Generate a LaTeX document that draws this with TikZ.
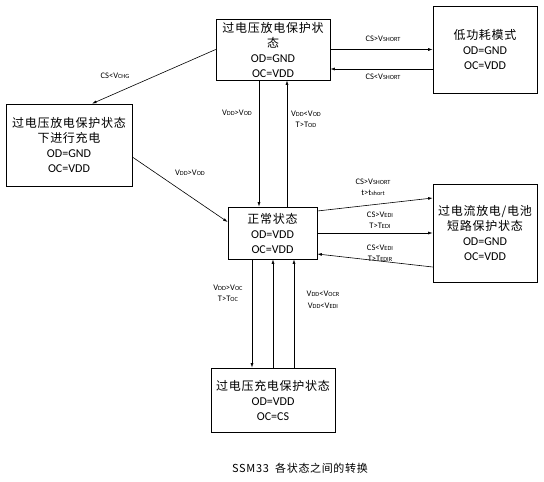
\documentclass[tikz,border=0pt]{standalone}
\usepackage{fontspec}
\setmainfont{Carlito}
\newfontfamily\cjk[LetterSpace=6]{Noto Sans CJK SC}
\usetikzlibrary{arrows.meta,positioning}
\newcommand{\lo}[1]{{\fontsize{6.3}{6.3}\selectfont #1}}

\begin{document}
\begin{tikzpicture}[x=1pt,y=-1pt,
    state/.style={draw,line width=0.7pt,align=center,font=\fontsize{12}{15}\selectfont,inner sep=2pt},
    trans/.style={line width=0.6pt,-{Latex[length=4.5pt,width=3pt]}},
    cond/.style={font=\fontsize{8.5}{11.5}\selectfont,align=center,inner sep=1pt}]
    \useasboundingbox (0,0) rectangle (544,482);

    % States
    \node[state,minimum width=114,minimum height=61] (ovd) at (273,49.5) {{\cjk 过电压放电保护状}\\{\cjk 态}\\OD=GND\\OC=VDD};
    \node[state,minimum width=104,minimum height=87] (lowpwr) at (485,49.5) {{\cjk 低功耗模式}\\OD=GND\\OC=VDD};
    \node[state,minimum width=126,minimum height=82] (chgd) at (69,145) {{\cjk 过电压放电保护状态}\\{\cjk 下进行充电}\\OD=GND\\OC=VDD};
    \node[state,minimum width=89,minimum height=52] (normal) at (272.5,233) {{\cjk 正常状态}\\OD=VDD\\OC=VDD};
    \node[state,minimum width=104,minimum height=98] (ocd) at (485,233) {{\cjk 过电流放电/电池}\\{\cjk 短路保护状态}\\OD=GND\\OC=VDD};
    \node[state,minimum width=124,minimum height=64] (ovc) at (273,400) {{\cjk 过电压充电保护状态}\\OD=VDD\\OC=CS};

    % Transitions
    \draw[trans] (ovd.east) -- (lowpwr.west);
    \draw[trans] ([yshift=-19.5]lowpwr.west) -- ([yshift=-19.5]ovd.east);
    \draw[trans] (ovd.west) -- ([xshift=23]chgd.north);
    \draw[trans] ([yshift=-12]chgd.east) -- ([yshift=11]normal.west);
    \draw[trans] ([xshift=-14]ovd.south) -- ([xshift=-13.5]normal.north);
    \draw[trans] ([xshift=14.5]normal.north) -- ([xshift=14]ovd.south);
    \draw[trans] ([yshift=22]normal.east) -- ([yshift=35]ocd.west);
    \draw[trans] (normal.east) -- (ocd.west);
    \draw[trans] ([yshift=-34]ocd.west) -- ([yshift=-21]normal.east);
    \draw[trans] ([xshift=-20.5]normal.south) -- ([xshift=-21]ovc.north);
    \draw[trans] (ovc.north) -- ([xshift=0.5]normal.south);
    \draw[trans] ([xshift=21]ovc.north) -- ([xshift=21.5]normal.south);

    % Conditions
    \node[cond] (c1) at (383,39) {CS>V\lo{SHORT}};
    \node[cond] (c2) at (383,77) {CS<V\lo{SHORT}};
    \node[cond] (c3) at (115,76) {CS<V\lo{CHG}};
    \node[cond] (c4) at (237,113) {V\lo{DD}>V\lo{OD}};
    \node[cond] (c5) at (306,119.5) {V\lo{DD}<V\lo{OD}\\T>T\lo{OD}};
    \node[cond] (c6) at (190,173) {V\lo{DD}>V\lo{OD}};
    \node[cond] (c7) at (373,187.5) {CS>V\lo{SHORT}\\t>t\lo{short}};
    \node[cond] (c8) at (380,220) {CS>V\lo{EDI}\\T>T\lo{EDI}};
    \node[cond] (c9) at (380,253) {CS<V\lo{EDI}\\T>T\lo{EDIR}};
    \node[cond] (c10) at (228,293.5) {V\lo{DD}>V\lo{OC}\\T>T\lo{OC}};
    \node[cond] (c11) at (323,300) {V\lo{DD}<V\lo{OCR}\\V\lo{DD}<V\lo{EDI}};

    % Caption
    \node[font=\cjk\fontsize{11}{13}\selectfont] (cap) at (300,468) {SSM33\ \ 各状态之间的转换};
\end{tikzpicture}
\end{document}
